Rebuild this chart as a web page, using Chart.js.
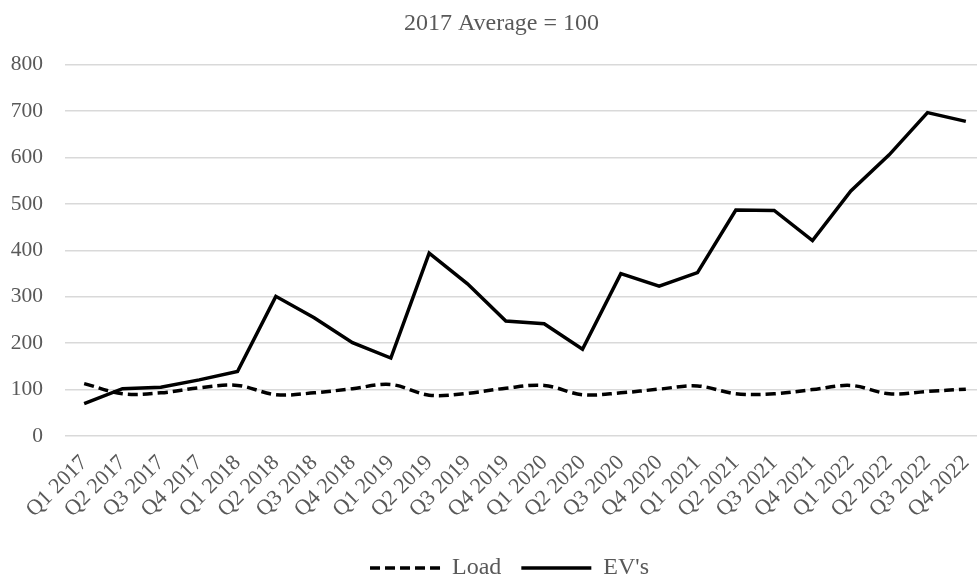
<!DOCTYPE html>
<html>
<head>
<meta charset="utf-8">
<script src="https://cdn.jsdelivr.net/npm/chart.js@4/dist/chart.umd.min.js"></script>
<style>
  html, body { margin: 0; padding: 0; background: #fff; overflow: hidden; }
  #wrap { width: 1010px; height: 590px; }
</style>
</head>
<body>
<div id="wrap"><canvas id="chart"></canvas></div>
<script>
// Quarterly index values, 2017 average = 100
const quarters = [
  'Q1 2017', 'Q2 2017', 'Q3 2017', 'Q4 2017',
  'Q1 2018', 'Q2 2018', 'Q3 2018', 'Q4 2018',
  'Q1 2019', 'Q2 2019', 'Q3 2019', 'Q4 2019',
  'Q1 2020', 'Q2 2020', 'Q3 2020', 'Q4 2020',
  'Q1 2021', 'Q2 2021', 'Q3 2021', 'Q4 2021',
  'Q1 2022', 'Q2 2022', 'Q3 2022', 'Q4 2022'
];
const loadValues = [
  113, 91, 93, 104, 109, 89, 93, 102, 111, 88, 92, 103,
  109, 89, 93, 101, 108, 91, 91, 100, 109, 91, 96, 101
];
const evValues = [
  70, 102, 105, 121, 139, 301, 255, 201, 168, 394, 328, 248,
  242, 187, 350, 323, 352, 487, 486, 421, 528, 606, 697, 678
];
const yTicks = [0, 100, 200, 300, 400, 500, 600, 700, 800];

const serif = "'Liberation Serif', 'Times New Roman', serif";
const grey = '#595959';
const PLOT_BOTTOM = 436;

// nudge title and legend right so they sit centred on the full page width
const recentre = {
  id: 'recentre',
  afterLayout(chart) {
    const t = chart.titleBlock, l = chart.legend;
    if (t) { t.left += 9; t.right += 9; }
    if (l) { l.left += 17; l.right += 17; }
  }
};

new Chart(document.getElementById('chart'), {
  type: 'line',
  plugins: [recentre],
  data: {
    labels: quarters,
    datasets: [
      {
        label: 'Load',
        data: loadValues,
        borderColor: '#000',
        backgroundColor: '#000',
        borderWidth: 3.5,
        borderDash: [10, 5],
        tension: 0.35,
        pointRadius: 0
      },
      {
        label: "EV's",
        data: evValues,
        borderColor: '#000',
        backgroundColor: '#000',
        borderWidth: 3.5,
        tension: 0,
        pointRadius: 0
      }
    ]
  },
  options: {
    responsive: true,
    maintainAspectRatio: false,
    animation: false,
    layout: { padding: { left: 0, right: 25, top: 0, bottom: 0 } },
    plugins: {
      title: {
        display: true,
        text: '2017 Average = 100',
        color: grey,
        font: { family: serif, size: 24, weight: 'normal' },
        padding: { top: 9, bottom: 27 }
      },
      legend: {
        position: 'bottom',
        labels: {
          color: grey,
          font: { family: serif, size: 24 },
          usePointStyle: true,
          pointStyleWidth: 70,
          boxHeight: 10,
          padding: 20,
          generateLabels: chart => {
            const items = Chart.defaults.plugins.legend.labels.generateLabels(chart);
            items.forEach((it, i) => {
              const ds = chart.data.datasets[i];
              it.pointStyle = 'line';
              it.lineWidth = 3.5;
              it.strokeStyle = '#000';
              it.lineDash = ds.borderDash || [];
            });
            return items;
          }
        }
      },
      tooltip: { enabled: false }
    },
    scales: {
      x: {
        offset: true,
        grid: { display: false },
        border: { display: false },
        ticks: {
          color: grey,
          font: { family: serif, size: 22 },
          autoSkip: false,
          minRotation: 45,
          maxRotation: 45,
          padding: 6
        },
        afterFit: scale => {
          const chart = scale.chart;
          scale.height = chart.height - chart.legend.height - PLOT_BOTTOM;
        }
      },
      y: {
        min: 0,
        max: 800,
        afterBuildTicks: scale => { scale.ticks = yTicks.map(v => ({ value: v })); },
        afterFit: scale => { scale.width = 65; },
        grid: { color: '#d9d9d9', lineWidth: 1.5, drawTicks: false },
        border: { display: false },
        ticks: {
          color: grey,
          font: { family: serif, size: 21.5 },
          padding: 22
        }
      }
    }
  }
});
</script>
</body>
</html>
